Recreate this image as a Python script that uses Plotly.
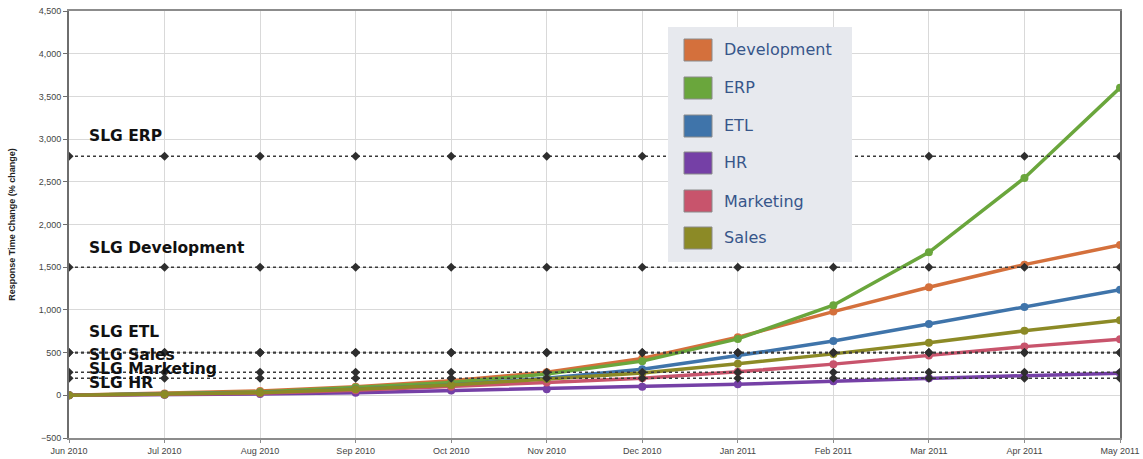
import plotly.graph_objects as go

months = ["Jun 2010", "Jul 2010", "Aug 2010", "Sep 2010", "Oct 2010", "Nov 2010",
          "Dec 2010", "Jan 2011", "Feb 2011", "Mar 2011", "Apr 2011", "May 2011"]

development = [0, 20, 50, 100, 170, 270, 430, 680, 980, 1265, 1530, 1760]
erp         = [0, 15, 40, 90, 150, 250, 400, 660, 1055, 1675, 2545, 3600]
etl         = [0, 10, 30, 70, 120, 200, 305, 465, 635, 835, 1035, 1235]
hr          = [0, 5, 15, 30, 55, 70, 100, 130, 165, 200, 230, 258]
marketing   = [0, 8, 25, 60, 100, 150, 200, 275, 365, 465, 570, 655]
sales       = [0, 10, 30, 70, 120, 190, 260, 370, 485, 615, 755, 880]

series_names = ["Development", "ERP", "ETL", "HR", "Marketing", "Sales"]
series_values = [development, erp, etl, hr, marketing, sales]
series_colors = ["#d4703c", "#6aa63c", "#3f74aa", "#7540a6", "#c8546c", "#8c8a26"]

slg_names = ["SLG ERP", "SLG Development", "SLG ETL", "SLG Sales", "SLG Marketing", "SLG HR"]
slg_values = [2800, 1500, 500, 500, 270, 200]
slg_label_shift = [20, 19, 21, -2, 3, -5]   # pixel offsets of labels from their line

y_ticks = list(range(-500, 4501, 500))

fig = go.Figure()

for name, vals, col in zip(series_names, series_values, series_colors):
    fig.add_trace(go.Scatter(
        x=months, y=vals, mode="lines+markers", name=name,
        line=dict(color=col, width=3.5),
        marker=dict(color=col, size=8),
        showlegend=False,
    ))

for name, v in zip(slg_names, slg_values):
    fig.add_trace(go.Scatter(
        x=months, y=[v] * len(months), mode="lines+markers", name=name,
        line=dict(color="#3a3a3a", width=1.6, dash="dot"),
        marker=dict(color="#2e2e2e", size=7, symbol="diamond"),
        showlegend=False,
    ))

# SLG labels
for name, v, dy in zip(slg_names, slg_values, slg_label_shift):
    fig.add_annotation(
        x=0, y=v, xref="x", yref="y", text="<b>" + name + "</b>",
        showarrow=False, xanchor="left", yanchor="middle",
        xshift=18, yshift=dy,
        font=dict(family="DejaVu Sans", size=15.5, color="#111111"),
    )

# Manual legend (pixel geometry converted to paper coordinates)
PX0, PW, PY1, PH = 69, 1051, 438, 427
def px(X):
    return (X - PX0) / PW
def py(Y):
    return (PY1 - Y) / PH

fig.add_shape(type="rect", xref="paper", yref="paper",
              x0=px(668), x1=px(852), y0=py(262), y1=py(27),
              fillcolor="#e7e9ee", line=dict(width=0), layer="above")
item_y = [50, 88, 126, 163, 201, 238]
for name, col, yc in zip(series_names, series_colors, item_y):
    fig.add_shape(type="rect", xref="paper", yref="paper",
                  x0=px(684), x1=px(712), y0=py(yc + 11), y1=py(yc - 11),
                  fillcolor=col, line=dict(color="#8a8a8a", width=1), layer="above")
    fig.add_annotation(x=px(722), y=py(yc), xref="paper", yref="paper",
                       text=name, showarrow=False, xanchor="left", yanchor="middle",
                       font=dict(family="DejaVu Sans", size=16, color="#37568a"))

fig.update_layout(
    width=1143, height=459,
    margin=dict(l=69, r=23, t=11, b=21),
    paper_bgcolor="white", plot_bgcolor="white",
    font=dict(family="Liberation Sans", size=9, color="#444444"),
    showlegend=False,
)
fig.update_xaxes(
    type="category", range=[0, len(months) - 1], automargin=False,
    tickvals=months, ticktext=months,
    showgrid=True, gridcolor="#d9d9d9", gridwidth=1,
    showline=True, linecolor="#8c8c8c", linewidth=2, mirror=True,
    ticks="outside", ticklen=3, tickcolor="#8c8c8c",
    tickfont=dict(size=9, color="#444444"),
)
fig.update_yaxes(
    range=[-500, 4500], tickvals=y_ticks, tickformat=",", automargin=False,
    showgrid=True, gridcolor="#d9d9d9", gridwidth=1, zeroline=False,
    showline=True, linecolor="#6e6e6e", linewidth=2, mirror=True,
    ticks="outside", ticklen=4, tickcolor="#6e6e6e",
    tickfont=dict(size=9, color="#444444"),
    title=dict(text="<b>Response Time Change (% change)</b>", standoff=22,
               font=dict(size=9, color="#222222")),
)

fig.write_html("out.html")
